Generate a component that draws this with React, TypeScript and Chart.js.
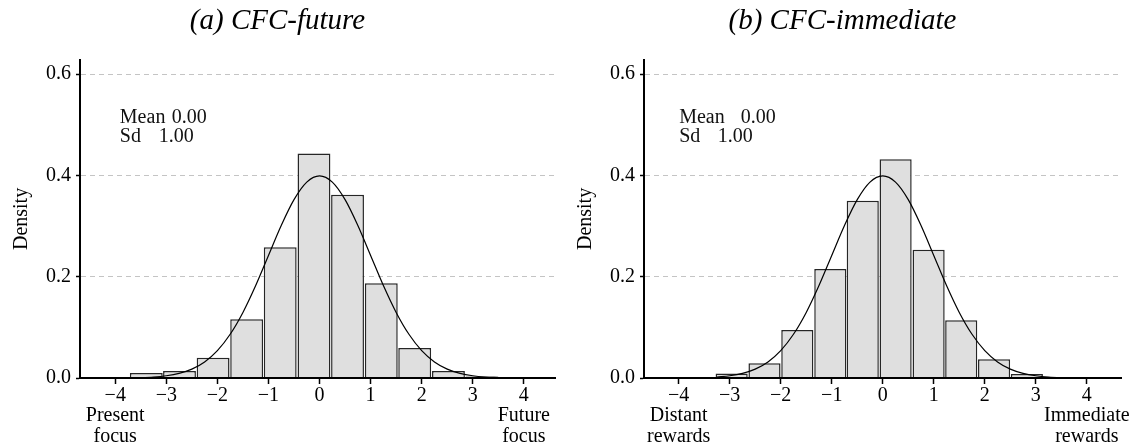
import React, { useEffect, useRef } from "react";
import { Chart, registerables } from "chart.js";

Chart.register(...registerables);

const FONT = '"Liberation Serif", "DejaVu Serif", serif';

// Shared axis ticks
const xTickValues = [-4, -3, -2, -1, 0, 1, 2, 3, 4];
const yTickValues = [0, 0.2, 0.4, 0.6];
const yAxisTitle = "Density";
const statLabels = ["Mean", "Sd"];

// Panel (a): CFC-future
const futureTitle = "(a) CFC-future";
const futureBinCenters = [-3.392, -2.742, -2.084, -1.427, -0.77, -0.109, 0.548, 1.209, 1.863, 2.524, 3.181];
const futureDensity = [0.01, 0.014, 0.04, 0.116, 0.258, 0.443, 0.362, 0.187, 0.059, 0.014, 0.003];
const futureCurveX = [
  -3.75, -3.5, -3.25, -3, -2.75, -2.5, -2.25, -2, -1.75, -1.5, -1.25, -1, -0.75, -0.5, -0.25, 0,
  0.25, 0.5, 0.75, 1, 1.25, 1.5, 1.75, 2, 2.25, 2.5, 2.75, 3, 3.25, 3.5,
];
const futureCurveY = [
  0.0004, 0.0009, 0.002, 0.0044, 0.0091, 0.0175, 0.0317, 0.054, 0.0863, 0.1295, 0.1826, 0.242, 0.3011, 0.3521, 0.3867, 0.3989,
  0.3867, 0.3521, 0.3011, 0.242, 0.1826, 0.1295, 0.0863, 0.054, 0.0317, 0.0175, 0.0091, 0.0044, 0.002, 0.0009,
];
const futureLowLabel = ["Present", "focus"];
const futureHighLabel = ["Future", "focus"];
const futureStatValues = ["0.00", "1.00"];

// Panel (b): CFC-immediate
const immediateTitle = "(b) CFC-immediate";
const immediateBinCenters = [-2.962, -2.318, -1.675, -1.028, -0.392, 0.252, 0.899, 1.538, 2.182, 2.825, 3.472];
const immediateDensity = [0.009, 0.029, 0.095, 0.215, 0.35, 0.432, 0.253, 0.114, 0.037, 0.008, 0.002];
const immediateCurveX = [
  -3.25, -3, -2.75, -2.5, -2.25, -2, -1.75, -1.5, -1.25, -1, -0.75, -0.5, -0.25, 0,
  0.25, 0.5, 0.75, 1, 1.25, 1.5, 1.75, 2, 2.25, 2.5, 2.75, 3, 3.25, 3.5, 3.75,
];
const immediateCurveY = [
  0.002, 0.0044, 0.0091, 0.0175, 0.0317, 0.054, 0.0863, 0.1295, 0.1826, 0.242, 0.3011, 0.3521, 0.3867, 0.3989,
  0.3867, 0.3521, 0.3011, 0.242, 0.1826, 0.1295, 0.0863, 0.054, 0.0317, 0.0175, 0.0091, 0.0044, 0.002, 0.0009, 0.0004,
];
const immediateLowLabel = ["Distant", "rewards"];
const immediateHighLabel = ["Immediate", "rewards"];
const immediateStatValues = ["0.00", "1.00"];

type PanelCfg = {
  title: string;
  centers: number[];
  density: number[];
  curveX: number[];
  curveY: number[];
  low: string[];
  high: string[];
  statValues: string[];
  statsAt: number;
  valueOffsets: number[];
  xMin: number;
  xMax: number;
  padRight: number;
};

const fmt = (v: number) => (v < 0 ? "\u2212" + Math.abs(v) : String(v));

function Panel({ cfg, left, width }: { cfg: PanelCfg; left: number; width: number }) {
  const ref = useRef<HTMLCanvasElement>(null);
  useEffect(() => {
    if (!ref.current) return;
    const statsPlugin = {
      id: "stats",
      afterDatasetsDraw(chart: any) {
        const ctx = chart.ctx;
        const area = chart.chartArea;
        const x0 = chart.scales.x.getPixelForValue(cfg.statsAt);
        ctx.save();
        ctx.font = `20px ${FONT}`;
        ctx.fillStyle = "#111";
        ctx.textBaseline = "alphabetic";
        ctx.textAlign = "left";
        statLabels.forEach((lab, i) => {
          const y = area.top + 63 + i * 19;
          ctx.fillText(lab, x0, y);
          ctx.fillText(cfg.statValues[i], x0 + cfg.valueOffsets[i], y);
        });
        ctx.restore();
      },
    };
    const chart = new Chart(ref.current, {
      type: "bar",
      data: {
        datasets: [
          {
            type: "line",
            data: cfg.curveX.map((x, i) => ({ x, y: cfg.curveY[i] })),
            borderColor: "#000",
            borderWidth: 1.2,
            pointRadius: 0,
            cubicInterpolationMode: "monotone",
            fill: false,
            order: 0,
          } as any,
          {
            type: "bar",
            data: cfg.centers.map((x, i) => ({ x, y: cfg.density[i] })),
            backgroundColor: "#dfdfdf",
            borderColor: "#262626",
            borderWidth: 1.5,
            barPercentage: 0.99,
            categoryPercentage: 1,
            order: 1,
          } as any,
        ],
      },
      options: {
        responsive: false,
        animation: false,
        layout: { padding: { left: 0, right: cfg.padRight, top: 0, bottom: 0 } },
        plugins: {
          legend: { display: false },
          tooltip: { enabled: false },
          title: {
            display: true,
            text: cfg.title,
            color: "#000",
            font: { family: FONT, size: 29, style: "italic", weight: "normal", lineHeight: 1.1 },
            padding: { top: 5, bottom: 23 },
          },
        },
        scales: {
          x: {
            type: "linear",
            min: cfg.xMin,
            max: cfg.xMax,
            offset: false,
            afterBuildTicks: (s: any) => {
              s.ticks = xTickValues.map((v) => ({ value: v }));
            },
            afterFit: (s: any) => {
              s.height = 69;
            },
            ticks: {
              autoSkip: false,
              maxRotation: 0,
              padding: 1,
              color: "#000",
              font: { family: FONT, size: 20, lineHeight: 1.04 },
              callback: (v: any) => {
                const n = Number(v);
                if (n === xTickValues[0]) return [fmt(n), ...cfg.low];
                if (n === xTickValues[xTickValues.length - 1]) return [fmt(n), ...cfg.high];
                return fmt(n);
              },
            },
            grid: {
              offset: false,
              drawOnChartArea: false,
              drawTicks: true,
              tickLength: 6,
              tickColor: "#000",
              tickWidth: 1.5,
            },
            border: { display: true, color: "#000", width: 2, z: 1 },
          } as any,
          y: {
            type: "linear",
            min: 0,
            max: 0.628,
            afterBuildTicks: (s: any) => {
              s.ticks = yTickValues.map((v) => ({ value: v }));
            },
            afterFit: (s: any) => {
              s.width = 80;
            },
            ticks: {
              padding: 5,
              color: "#000",
              font: { family: FONT, size: 20 },
              callback: (v: any) => Number(v).toFixed(1),
            },
            grid: {
              color: "#c4c4c4",
              lineWidth: 1,
              tickColor: "#000",
              tickLength: 4,
              tickWidth: 1.5,
              tickBorderDash: [],
            },
            border: { display: true, color: "#000", width: 2, dash: [5, 4], z: 1 },
            title: {
              display: true,
              text: yAxisTitle,
              color: "#000",
              font: { family: FONT, size: 20 },
              padding: { top: 10, bottom: 0 },
            },
          } as any,
        },
      },
      plugins: [statsPlugin],
    });
    return () => chart.destroy();
  }, []);
  return (
    <canvas
      ref={ref}
      width={width}
      height={447}
      style={{ position: "absolute", left, top: 0, width, height: 447 }}
    />
  );
}

const futureCfg: PanelCfg = {
  title: futureTitle,
  centers: futureBinCenters,
  density: futureDensity,
  curveX: futureCurveX,
  curveY: futureCurveY,
  low: futureLowLabel,
  high: futureHighLabel,
  statValues: futureStatValues,
  statsAt: -3.91,
  valueOffsets: [52, 39],
  xMin: -4.69,
  xMax: 4.61,
  padRight: 9,
};

const immediateCfg: PanelCfg = {
  title: immediateTitle,
  centers: immediateBinCenters,
  density: immediateDensity,
  curveX: immediateCurveX,
  curveY: immediateCurveY,
  low: immediateLowLabel,
  high: immediateHighLabel,
  statValues: immediateStatValues,
  statsAt: -3.99,
  valueOffsets: [61.5, 38.5],
  xMin: -4.68,
  xMax: 4.67,
  padRight: 11,
};

export default function App() {
  return (
    <div style={{ position: "absolute", left: 0, top: 0, width: 1132, height: 447, background: "#fff" }}>
      <Panel cfg={futureCfg} left={0} width={564} />
      <Panel cfg={immediateCfg} left={564} width={568} />
    </div>
  );
}
